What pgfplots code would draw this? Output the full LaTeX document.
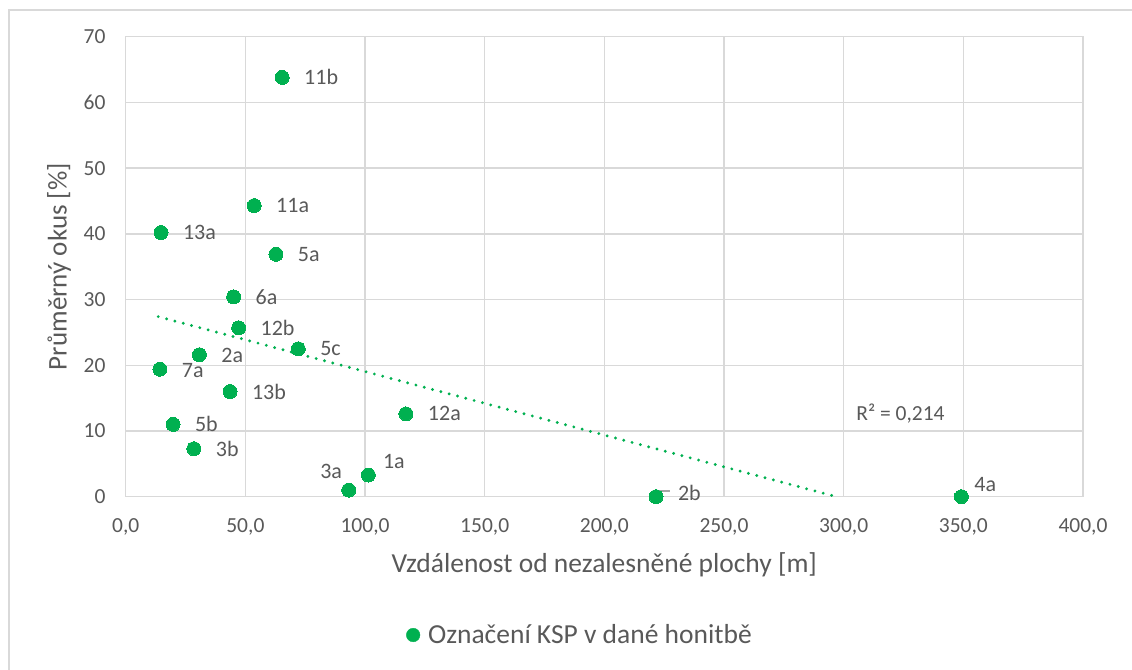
\documentclass[border=0pt]{standalone}
\usepackage{pgfplots}
\pgfplotsset{compat=1.18}
\usepackage{pgfplotstable}
\usepackage{fontspec}
\setmainfont{Carlito}
\definecolor{kspgreen}{HTML}{00B050}
\definecolor{txtgray}{HTML}{595959}
\definecolor{gridgray}{HTML}{D9D9D9}
\definecolor{leadgray}{HTML}{A6A6A6}

\pgfplotstableread{
x     y    lab  dx    dy
65.4  63.8 11b  22    0
53.7  44.3 11a  22    0
14.75 40.2 13a  22    0
62.8  36.9 5a   22    0
45.1  30.4 6a   22    0
47.2  25.7 12b  22    0
72.1  22.5 5c   22    0
30.8  21.6 2a   22    -1
14.3  19.4 7a   22    -1
43.6  16.0 13b  22    0
117.1 12.6 12a  22    0
19.8  11.0 5b   22    0
28.5  7.3  3b   22    0
93.2  1.0  3a   -28.5 18.3
101.4 3.3  1a   14.7  13.3
221.6 0.0  2b   22    3.7
349.2 0.0  4a   13    11.7
}\ksp

\pgfplotstableread{
x     y
13.6  27.4
297.0 0.0
}\trend

\begin{document}
\begin{tikzpicture}
\useasboundingbox (0,0) rectangle (1132bp,670bp);
\draw[gridgray, line width=2bp] (9bp,0) -- (9bp,660bp) -- (1132bp,660bp);
\begin{axis}[
  at={(125.7bp,173.3bp)}, anchor=south west,
  scale only axis, width=957.3bp, height=460bp,
  xmin=0, xmax=400, ymin=0, ymax=70,
  xtick={0,50,...,400}, ytick={0,10,...,70},
  clip=false,
  grid=major,
  major grid style={gridgray, line width=1.5bp},
  axis line style={gridgray, line width=1.5bp},
  major tick length=0pt,
  tick style={draw=none},
  /pgf/number format/assume math mode=true,
  xticklabel style={font=\fontsize{21.5bp}{24bp}\selectfont, text=txtgray, inner sep=0pt, anchor=north, yshift=-22bp,
    /pgf/number format/.cd, fixed, fixed zerofill, precision=1, use comma, 1000 sep={}},
  yticklabel style={font=\fontsize{21.5bp}{24bp}\selectfont, text=txtgray, inner sep=0pt, anchor=east, xshift=-20bp},
  xlabel={Vzdálenost od nezalesněné plochy [m]},
  ylabel={Průměrný okus [\%]},
  every axis x label/.style={at={(axis description cs:0.5,-0.1485)}, anchor=center, font=\fontsize{27.5bp}{30bp}\selectfont, text=txtgray},
  every axis y label/.style={at={(axis description cs:-0.0697,0.5)}, rotate=90, anchor=center, font=\fontsize{27bp}{30bp}\selectfont, text=txtgray},
  legend style={at={(0.4735,-0.3007)}, anchor=center, draw=none, fill=none,
    font=\fontsize{27.5bp}{30bp}\selectfont, text=txtgray, column sep=8bp, inner sep=0pt,
    nodes={inner sep=0pt}},
  legend image code/.code={\fill[kspgreen] (0bp,0bp) circle (6.8bp);},
]
\addplot[kspgreen, line width=3.2bp, line cap=round, dash pattern=on 0pt off 8.6bp, forget plot] table[x=x,y=y] {\trend};
\draw[leadgray, line width=1.3bp] ([xshift=2bp,yshift=1bp]axis cs:221.6,0) -- ([xshift=2bp,yshift=5.7bp]axis cs:221.6,0) -- ([xshift=13.5bp,yshift=5.7bp]axis cs:221.6,0);
\addplot[only marks, mark=*, mark size=7bp, mark options={draw=kspgreen, fill=kspgreen, line width=0pt},
  point meta=explicit symbolic,
  visualization depends on={\thisrow{dx} \as \dx},
  visualization depends on={\thisrow{dy} \as \dy},
  nodes near coords,
  nodes near coords style={anchor=west, inner sep=0pt, xshift=\dx bp, yshift=\dy bp,
    font=\fontsize{22bp}{24bp}\selectfont, text=txtgray},
] table[x=x, y=y, meta=lab] {\ksp};
\addlegendentry{Označení KSP v dané honitbě}
\node[anchor=base west, inner sep=0pt, font=\fontsize{21.5bp}{24bp}\selectfont, text=txtgray] at (axis cs:305.2,11.55) {R² = 0,214};
\end{axis}
\end{tikzpicture}
\end{document}
